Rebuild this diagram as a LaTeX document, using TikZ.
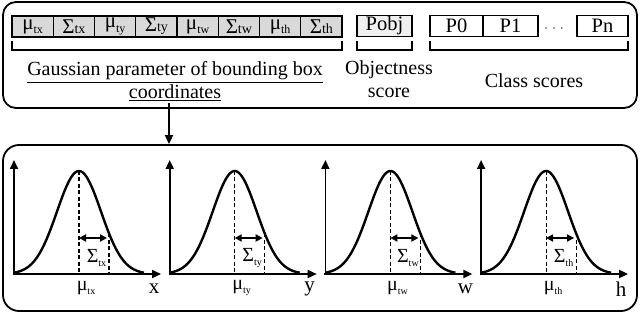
\documentclass[tikz,border=0pt]{standalone}
\usepackage{fontspec}
\setmainfont{Liberation Serif}
\usetikzlibrary{arrows.meta}
\newcommand\msub[1]{\raisebox{-0.45ex}{\fontsize{12}{12}\selectfont #1}}
\newcommand\ssub[1]{{\fontsize{14}{14}\selectfont #1}}
\newcommand\lsub[1]{\raisebox{-0.45ex}{\fontsize{10}{10}\selectfont #1}}
\begin{document}
\begin{tikzpicture}[x=1pt,y=-1pt,
  frame/.style={draw, line width=1.8pt, rounded corners=13pt, inner sep=0pt},
  cell/.style={draw, line width=1.3pt, fill=gray!30, minimum width=41.25pt, minimum height=21pt, inner sep=0pt, font=\fontsize{21}{21}\selectfont},
  pcell/.style={draw, line width=1.3pt, minimum height=21pt, inner sep=0pt, font=\fontsize{20.5}{20.5}\selectfont},
  brk/.style={line width=1.3pt},
  lbl/.style={font=\fontsize{20}{23}\selectfont, align=center, inner sep=1pt},
  axis/.style={line width=1.8pt, -{Triangle[length=9pt,width=8pt]}},
  curve/.style={line width=2.4pt},
  dsh/.style={line width=1.2pt, dash pattern=on 4pt off 2.5pt},
  sig/.style={line width=1.8pt, {Triangle[length=7pt,width=7pt]}-{Triangle[length=7pt,width=7pt]}},
  plab/.style={font=\fontsize{20}{20}\selectfont, inner sep=0pt},
  alab/.style={font=\fontsize{21}{21}\selectfont, inner sep=0pt}
]
\useasboundingbox (0,0) rectangle (640,315);
% top frame
\node[frame, minimum width=634pt, minimum height=106pt] (top) at (320,55) {};
% cells
\node[cell] (c0) at ({12+41.25*0.5},26.5) {μ\msub{tx}};
\node[cell] (c1) at ({12+41.25*1.5},26.5) {Σ\ssub{tx}};
\node[cell] (c2) at ({12+41.25*2.5},26.5) {μ\msub{ty}};
\node[cell] (c3) at ({12+41.25*3.5},26.5) {Σ\ssub{ty}};
\node[cell] (c4) at ({12+41.25*4.5},26.5) {μ\msub{tw}};
\node[cell] (c5) at ({12+41.25*5.5},26.5) {Σ\ssub{tw}};
\node[cell] (c6) at ({12+41.25*6.5},26.5) {μ\msub{th}};
\node[cell] (c7) at ({12+41.25*7.5},26.5) {Σ\ssub{th}};
\node[pcell, fill=gray!12, minimum width=55pt] (pobj) at (384.5,26) {Pobj};
\node[pcell, minimum width=53pt] (p0) at (456.5,26) {P0};
\node[pcell, minimum width=55pt] (p1) at (510.5,26) {P1};
\node[inner sep=0pt, font=\fontsize{12}{12}\selectfont] (dots) at (554,30) {·\,\,·\,\,·};
\node[pcell, minimum width=51pt] (pn) at (602.5,26) {Pn};
% brackets
\draw[brk] (12,41) -- (12,50) -- (342,50) -- (342,41);
\draw[brk] (357,41) -- (357,50) -- (412,50) -- (412,41);
\draw[brk] (430,41) -- (430,50) -- (628,50) -- (628,41);
% labels
\node[lbl, anchor=base] (gtxt) at (175,99) {\underline{Gaussian parameter of bounding box}\\\underline{coordinates}};
\node[lbl, anchor=base] (otxt) at (389,98) {Objectness\\score};
\node[lbl, anchor=base] (ctxt) at (534,88) {Class scores};
% bottom frame
\node[frame, rounded corners=16pt, minimum width=634pt, minimum height=166pt] (bot) at (320,228) {};
\coordinate (astart) at (169,103);
\draw[line width=1.8pt, -{Triangle[length=9pt,width=8pt]}] (astart) -- (astart |- bot.north);
% plots
\foreach \ox/\v [count=\k] in {14/x, 169.7/y, 325.4/w, 481.1/h}{
  \pgfmathsetmacro{\hs}{274-103*exp(-(30*30)/(2*22*22))}
  \draw[axis] (\ox,275) -- (\ox,160);
  \draw[axis] (\ox-1,274) -- (\ox+147,274);
  \draw[curve] plot[domain=0:130, samples=80, smooth] ({\ox+\x},{274-103*exp(-((\x-65)*(\x-65))/(2*22*22))});
  \draw[dsh] (\ox+65,171) -- (\ox+65,274);
  \draw[dsh] (\ox+95,\hs) -- (\ox+95,274);
  \draw[sig] (\ox+65,238) -- (\ox+93,238);
  \node[plab] (s\k) at (\ox+82.5,258) {Σ\lsub{t\v}};
  \node[plab] (m\k) at (\ox+72,288) {μ\lsub{t\v}};
  \node[alab] (a\k) at (\ox+140,289) {\v};
}
\end{tikzpicture}
\end{document}
